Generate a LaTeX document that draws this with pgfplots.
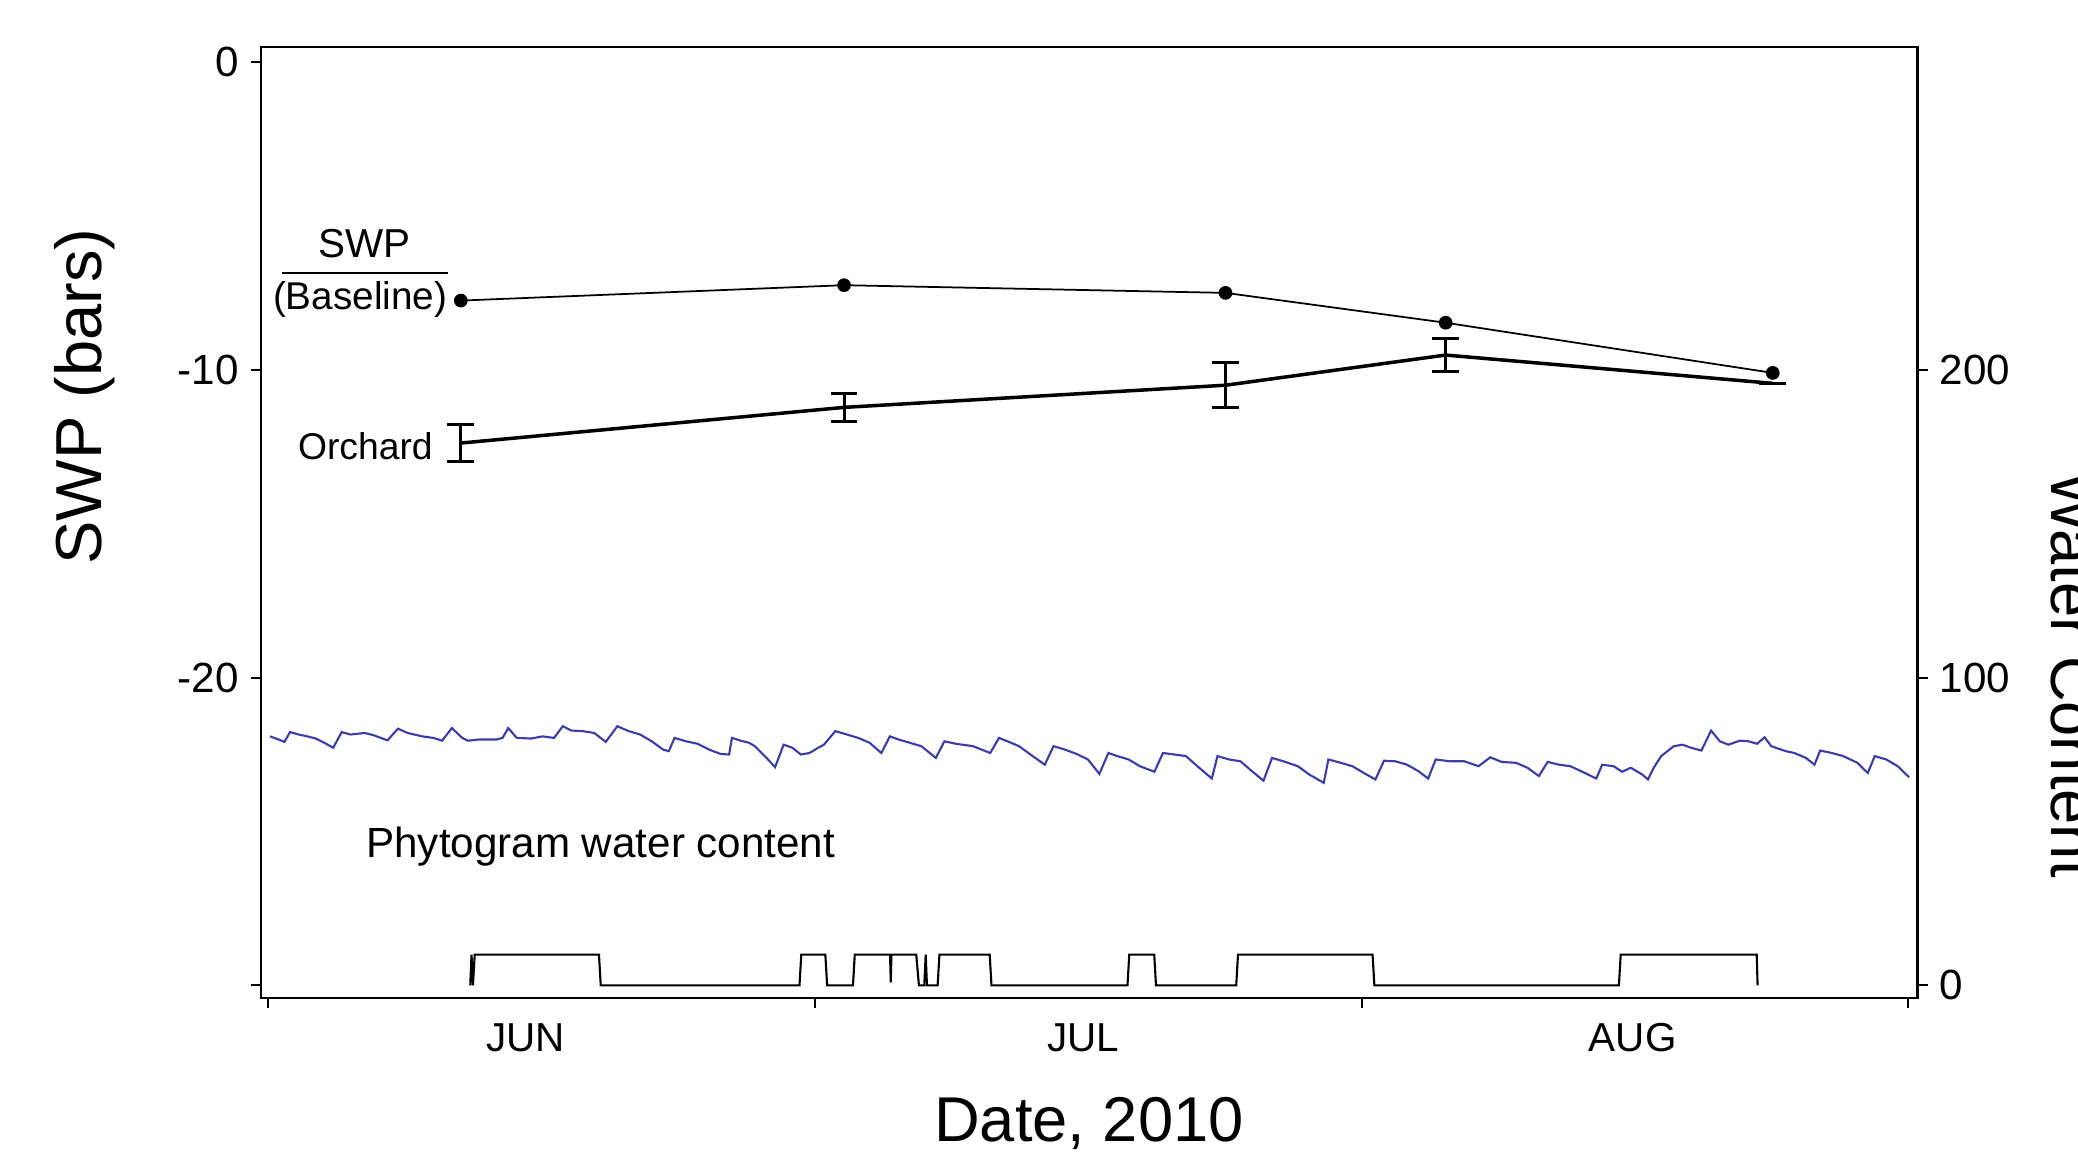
\documentclass[border=0pt]{standalone}
\usepackage{fontspec}
\setmainfont{Liberation Sans}
\usepackage{pgfplots}
\pgfplotsset{compat=1.18}
\definecolor{phyto}{RGB}{60,60,170}

\begin{document}
\begin{tikzpicture}[x=1cm,y=1cm]
\useasboundingbox (0,0) rectangle (20.78,11.53);

% ---------- left axis: SWP (bars) ----------
\begin{axis}[
  at={(2.61cm,1.547cm)}, anchor=south west,
  scale only axis, width=16.565cm, height=9.513cm,
  xmin=-0.41, xmax=92.52, ymin=-30.42, ymax=0.49,
  xtick={0,30.667,61.333,92}, xticklabels={,,,},
  extra x ticks={14.44,45.73,76.54},
  extra x tick labels={JUN,JUL,AUG},
  extra x tick style={tick style={draw=none}},
  ytick={0,-10,-20,-30}, yticklabels={0,-10,-20,{}},
  tick align=outside, xtick pos=bottom, ytick pos=left,
  major tick length=0.1cm,
  axis line style={line width=0.6pt},
  tick style={line width=0.6pt, black},
  xticklabel style={font=\fontsize{11.5}{13}\selectfont, yshift=-0.03cm},
  yticklabel style={font=\fontsize{12}{14}\selectfont},
  clip=false,
]
  % Baseline SWP
  \addplot[black, line width=0.5pt, mark=*, mark size=1.7pt] coordinates {
    (10.8,-7.75) (32.3,-7.25) (53.7,-7.5) (66.05,-8.47) (84.4,-10.1)
  };
  % Orchard SWP with error bars
  \addplot[black, line width=1pt,
    error bars/.cd, y dir=both, y explicit,
    error bar style={line width=0.85pt},
    error mark options={rotate=90, mark size=3.8pt, line width=0.85pt}]
    coordinates {
    (10.8,-12.38) +- (0,0.61)
    (32.3,-11.22) +- (0,0.45)
    (53.7,-10.5)  +- (0,0.73)
    (66.05,-9.52) +- (0,0.53)
    (84.4,-10.44) +- (0,0.0)
  };
  \node[anchor=base, font=\fontsize{11.5}{13}\selectfont] at (axis cs:5.39,-6.35) {SWP};
  \draw[line width=0.5pt] (axis cs:0.78,-6.85) -- (axis cs:10.07,-6.85);
  \node[anchor=base east, inner sep=0pt, font=\fontsize{11}{13}\selectfont] at (axis cs:10.07,-8.03) {(Baseline)};
  \node[anchor=base east, inner sep=0pt, font=\fontsize{10.6}{13}\selectfont] at (axis cs:9.26,-12.9) {Orchard};
  \node[anchor=base west, inner sep=0pt, font=\fontsize{12}{14}\selectfont] at (axis cs:5.46,-25.86) {Phytogram water content};
\end{axis}

% ---------- right axis: Water Content ----------
\begin{axis}[
  at={(2.61cm,1.547cm)}, anchor=south west,
  scale only axis, width=16.565cm, height=9.513cm,
  xmin=-0.41, xmax=92.52, ymin=-4.2, ymax=304.9,
  axis x line=none, axis y line*=right,
  ytick={0,100,200},
  tick align=outside, ytick pos=right,
  major tick length=0.1cm,
  axis line style={line width=0.6pt},
  tick style={line width=0.6pt, black},
  yticklabel style={font=\fontsize{12}{14}\selectfont},
  /pgf/number format/assume math mode=true,
]
  % Phytogram water content
  \addplot[phyto, line width=0.6pt] coordinates {
    (0.09,80.9) (0.58,79.9) (0.90,79.1) (1.22,82.3) (1.70,81.5) (2.19,80.9)
    (2.67,80.2) (3.15,78.8) (3.64,77.2) (4.12,82.3) (4.60,81.5) (5.41,82.0)
    (5.89,81.3) (6.69,79.6) (7.27,83.4) (7.82,82.0) (8.63,80.9) (9.27,80.4)
    (9.75,79.5) (10.30,83.6) (10.88,80.4) (11.20,79.5) (11.85,79.9) (12.81,79.9)
    (13.14,80.4) (13.46,83.6) (13.94,80.4) (14.74,80.2) (15.39,80.9) (16.03,80.4)
    (16.52,84.2) (17.00,82.8) (17.64,82.6) (18.29,82.0) (18.93,79.1) (19.58,84.2)
    (20.22,82.6) (20.86,81.5) (21.51,79.3) (22.15,76.6) (22.47,76.1) (22.79,80.4)
    (23.44,79.3) (24.08,78.5) (24.73,76.6) (25.37,75.2) (25.85,75.0) (26.01,80.4)
    (26.50,79.5) (26.98,78.8) (27.30,77.7) (27.95,73.9) (28.43,70.9) (28.91,78.2)
    (29.40,77.2) (29.88,75.0) (30.36,75.5) (30.85,77.2) (31.17,78.2) (31.81,82.6)
    (32.46,81.5) (33.10,80.4) (33.74,78.8) (34.39,75.5) (34.87,80.9) (35.35,79.9)
    (36.00,78.8) (36.64,77.7) (37.45,73.9) (37.93,79.3) (38.57,78.5) (39.54,77.7)
    (40.50,75.5) (40.99,80.4) (41.47,79.3) (42.12,77.7) (42.76,75.0) (43.56,71.7)
    (44.05,77.7) (44.69,76.6) (45.34,75.2) (45.98,73.4) (46.62,68.7) (47.13,75.5)
    (47.62,74.5) (48.26,73.4) (48.90,71.2) (49.71,69.4) (50.19,75.5) (50.84,75.0)
    (51.48,74.5) (52.12,71.2) (52.93,67.2) (53.25,74.5) (53.90,73.4) (54.54,72.8)
    (55.18,69.6) (55.83,66.5) (56.31,73.9) (56.95,72.8) (57.76,71.2) (58.40,68.5)
    (59.21,65.8) (59.47,73.4) (60.17,72.3) (60.82,71.2) (61.46,69.0) (62.11,66.9)
    (62.59,73.0) (63.23,72.8) (63.88,71.7) (64.52,69.6) (65.07,67.2) (65.49,73.4)
    (66.29,72.8) (67.10,72.8) (67.90,71.2) (68.55,74.1) (69.19,72.6) (70.00,72.3)
    (70.64,70.7) (71.28,68.0) (71.77,72.6) (72.41,71.7) (73.05,71.2) (73.86,69.0)
    (74.50,67.2) (74.83,71.7) (75.47,71.2) (75.95,69.4) (76.44,70.7) (77.08,68.5)
    (77.40,66.9) (77.72,70.7) (78.14,74.5) (78.85,77.7) (79.33,78.2) (79.82,77.2)
    (80.40,76.3) (80.94,82.8) (81.43,79.3) (81.91,78.2) (82.55,79.5) (83.04,79.3)
    (83.52,78.5) (83.94,80.6) (84.32,77.7) (85.13,76.1) (85.61,75.5) (86.26,73.9)
    (86.74,71.7) (87.06,76.3) (87.71,75.5) (88.35,74.5) (89.15,72.3) (89.73,69.0)
    (90.12,74.5) (90.76,73.4) (91.41,71.2) (92.05,67.6)
  };
  % irrigation events (0/10)
  \addplot[black, line width=0.6pt] coordinates {
    (11.33,0) (11.40,10) (11.48,0) (11.58,10) (18.55,10) (18.65,0)
    (29.8,0) (29.9,10) (31.25,10) (31.35,0) (32.8,0) (32.9,10)
    (34.88,10) (34.92,1) (34.96,10) (36.35,10) (36.5,0) (36.8,0) (36.88,10)
    (36.95,0) (37.55,0) (37.65,10) (40.47,10) (40.57,0) (48.2,0) (48.3,10)
    (49.7,10) (49.8,0) (54.3,0) (54.4,10) (61.95,10) (62.05,0)
    (75.77,0) (75.87,10) (83.5,10) (83.55,0)
  };
\end{axis}

% axis titles
\node[rotate=90, anchor=base, font=\fontsize{18.5}{22}\selectfont] at (1.02,7.565) {SWP (bars)};
\node[anchor=base, font=\fontsize{18}{22}\selectfont] at (10.89,0.11) {Date, 2010};
\node[rotate=-90, anchor=base, font=\fontsize{18}{22}\selectfont] at (20.51,4.78) {Water Content};
\end{tikzpicture}
\end{document}
